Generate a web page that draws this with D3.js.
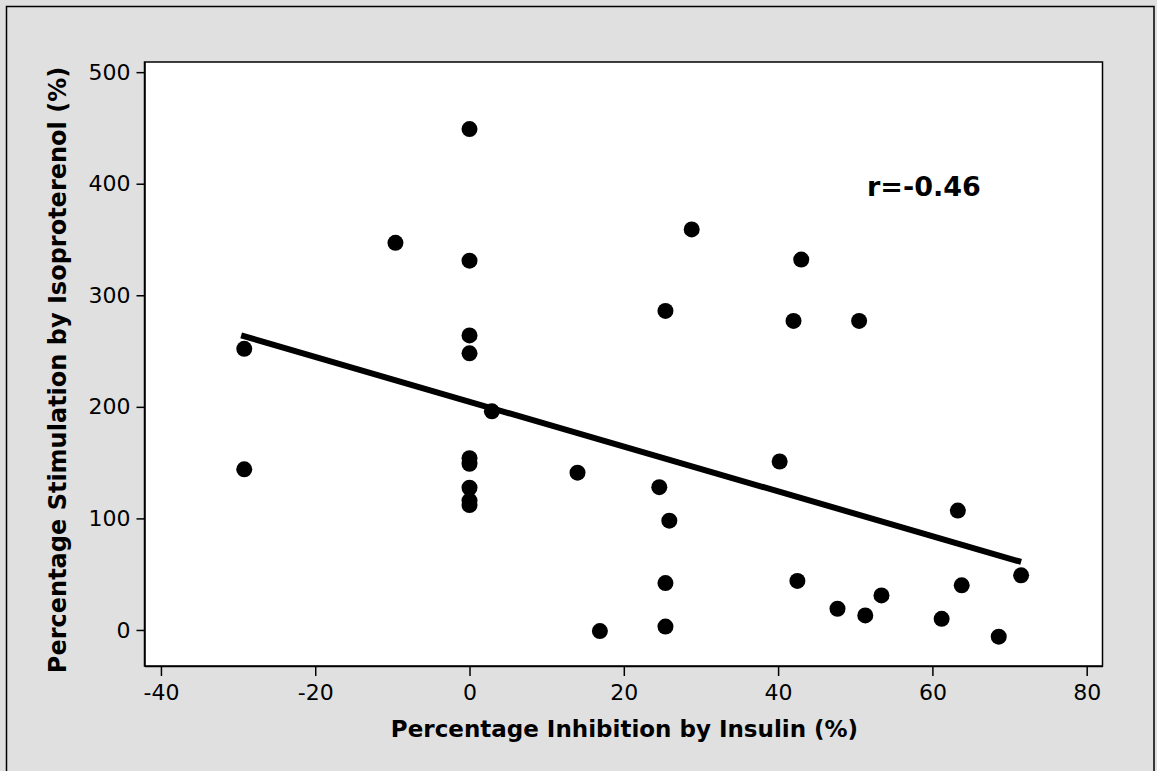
<!DOCTYPE html>
<html>
<head>
<meta charset="utf-8">
<script src="https://cdn.jsdelivr.net/npm/d3@7"></script>
<style>
  html, body { margin: 0; padding: 0; background: #e0e0e0; }
  svg { display: block; }
  text { font-family: "DejaVu Sans", Verdana, sans-serif; fill: #000; }
</style>
</head>
<body>
<svg id="chart" width="1157" height="771"></svg>
<script>
// ---- data ----
const inhibition = [0, -9.6, 0, 0, 0, 0, 0, 0, 0, 0, -29.2, -29.2, 2.9, 14, 16.9, 28.8, 25.4, 24.6, 25.9, 25.4, 25.4, 43, 42, 50.5, 40.2, 42.5, 47.7, 51.3, 53.4, 61.2, 63.3, 63.8, 68.6, 71.5];
const stimulation = [449, 347, 331, 264, 248, 154, 149, 127.5, 116, 112, 252, 144, 196, 141, -1, 359, 286, 128, 98, 42, 3, 332, 277, 277, 151, 44, 19, 13, 31, 10, 107, 40, -6, 49];
const fitX = [-29.6, 71.5];
const fitY = [264, 61];
const xTicks = [-40, -20, 0, 20, 40, 60, 80];
const yTicks = [0, 100, 200, 300, 400, 500];
const xTitle = "Percentage Inhibition by Insulin (%)";
const yTitle = "Percentage Stimulation by Isoproterenol (%)";
const rLabel = "r=-0.46";

const svg = d3.select("#chart");
const W = 1157, H = 771;
const plot = { left: 144.5, right: 1102.5, top: 62, bottom: 666 };

// outer frame
svg.append("rect").attr("x", 0).attr("y", 0).attr("width", W).attr("height", H).attr("fill", "#e0e0e0");
svg.append("rect").attr("x", 6.5).attr("y", 6.5).attr("width", 1147.5).attr("height", 800)
  .attr("fill", "none").attr("stroke", "#000").attr("stroke-width", 1.5);

const x = d3.scaleLinear().domain([-42.13, 82.05]).range([plot.left, plot.right]);
const y = d3.scaleLinear().domain([-32.3, 509.1]).range([plot.bottom, plot.top]);

// plot area
svg.append("rect").attr("x", plot.left).attr("y", plot.top)
  .attr("width", plot.right - plot.left).attr("height", plot.bottom - plot.top)
  .attr("fill", "#fff").attr("stroke", "#000").attr("stroke-width", 1.5);

// axes
const xAxis = d3.axisBottom(x).tickValues(xTicks).tickSizeInner(10).tickSizeOuter(0).tickPadding(8).tickFormat(d3.format("d"));
const yAxis = d3.axisLeft(y).tickValues(yTicks).tickSizeInner(8).tickSizeOuter(0).tickPadding(6).tickFormat(d3.format("d"));

const gx = svg.append("g").attr("transform", `translate(0,${plot.bottom})`).call(xAxis);
const gy = svg.append("g").attr("transform", `translate(${plot.left},0)`).call(yAxis);
[gx, gy].forEach(g => {
  g.select(".domain").attr("stroke", "#000").attr("stroke-width", 1.5);
  g.selectAll(".tick line").attr("stroke", "#000").attr("stroke-width", 1.5);
  g.selectAll(".tick text").attr("font-size", 22).attr("font-family", "DejaVu Sans, sans-serif").attr("fill", "#000");
});
gx.selectAll(".tick text").text(d => d < 0 ? "-" + Math.abs(d) : d);

// regression line
const fit = fitX.map((v, i) => [v, fitY[i]]);
svg.append("path").datum(fit)
  .attr("d", d3.line().x(d => x(d[0])).y(d => y(d[1])))
  .attr("fill", "none").attr("stroke", "#000").attr("stroke-width", 6);

// points
svg.append("g").selectAll("circle")
  .data(inhibition.map((v, i) => [v, stimulation[i]]))
  .join("circle")
  .attr("cx", d => x(d[0])).attr("cy", d => y(d[1]))
  .attr("r", 8).attr("fill", "#000");

// labels
svg.append("text").attr("x", (plot.left + plot.right) / 2 + 1).attr("y", 737)
  .attr("text-anchor", "middle").attr("font-weight", "bold").attr("font-size", 23)
  .text(xTitle);
svg.append("text").attr("transform", `translate(66,370) rotate(-90)`)
  .attr("text-anchor", "middle").attr("font-weight", "bold").attr("font-size", 24)
  .text(yTitle);
svg.append("text").attr("x", 867).attr("y", 196)
  .attr("font-weight", "bold").attr("font-size", 27)
  .text(rLabel);
</script>
</body>
</html>
